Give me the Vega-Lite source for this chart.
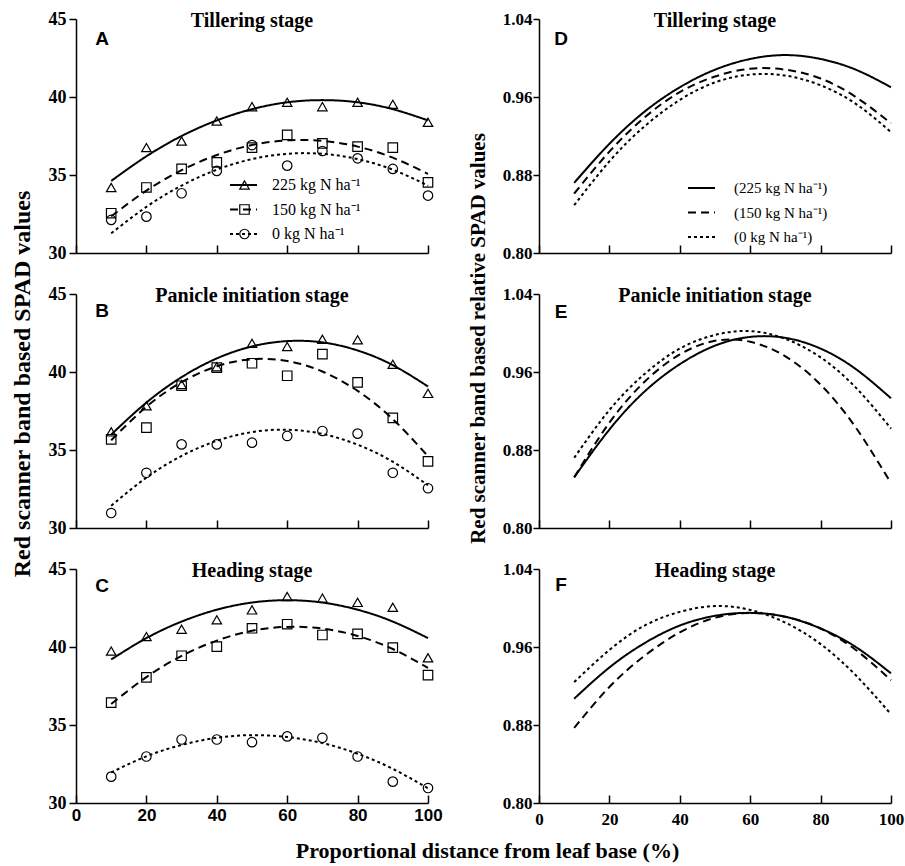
{
"$schema": "https://vega.github.io/schema/vega-lite/v6.json",
"background": "white",
"padding": {"left": 10, "top": 10, "right": 1, "bottom": 2},
"columns": 2,
"spacing": {"row": 41, "column": 111},
"bounds": "flush",
"resolve": {"scale": {"strokeDash": "independent", "shape": "independent"}, "legend": {"strokeDash": "independent", "shape": "independent"}},
"datasets": {
"pts": [
{"stage":"T","x":10,"m":"225","v":34.2},{"stage":"T","x":20,"m":"225","v":36.76},{"stage":"T","x":30,"m":"225","v":37.18},{"stage":"T","x":40,"m":"225","v":38.46},{"stage":"T","x":50,"m":"225","v":39.38},{"stage":"T","x":60,"m":"225","v":39.66},{"stage":"T","x":70,"m":"225","v":39.38},{"stage":"T","x":80,"m":"225","v":39.66},{"stage":"T","x":90,"m":"225","v":39.53},{"stage":"T","x":100,"m":"225","v":38.38},
{"stage":"T","x":10,"m":"150","v":32.55},{"stage":"T","x":20,"m":"150","v":34.2},{"stage":"T","x":30,"m":"150","v":35.39},{"stage":"T","x":40,"m":"150","v":35.81},{"stage":"T","x":50,"m":"150","v":36.76},{"stage":"T","x":60,"m":"150","v":37.57},{"stage":"T","x":70,"m":"150","v":37.03},{"stage":"T","x":80,"m":"150","v":36.82},{"stage":"T","x":90,"m":"150","v":36.76},{"stage":"T","x":100,"m":"150","v":34.53},
{"stage":"T","x":10,"m":"0","v":32.12},{"stage":"T","x":20,"m":"0","v":32.33},{"stage":"T","x":30,"m":"0","v":33.83},{"stage":"T","x":40,"m":"0","v":35.26},{"stage":"T","x":50,"m":"0","v":36.92},{"stage":"T","x":60,"m":"0","v":35.6},{"stage":"T","x":70,"m":"0","v":36.54},{"stage":"T","x":80,"m":"0","v":36.07},{"stage":"T","x":90,"m":"0","v":35.39},{"stage":"T","x":100,"m":"0","v":33.68},
{"stage":"P","x":10,"m":"225","v":36.16},{"stage":"P","x":20,"m":"225","v":37.83},{"stage":"P","x":30,"m":"225","v":39.2},{"stage":"P","x":40,"m":"225","v":40.34},{"stage":"P","x":50,"m":"225","v":41.84},{"stage":"P","x":60,"m":"225","v":41.63},{"stage":"P","x":70,"m":"225","v":42.1},{"stage":"P","x":80,"m":"225","v":42.06},{"stage":"P","x":90,"m":"225","v":40.49},{"stage":"P","x":100,"m":"225","v":38.63},
{"stage":"P","x":10,"m":"150","v":35.68},{"stage":"P","x":20,"m":"150","v":36.44},{"stage":"P","x":30,"m":"150","v":39.12},{"stage":"P","x":40,"m":"150","v":40.28},{"stage":"P","x":50,"m":"150","v":40.56},{"stage":"P","x":60,"m":"150","v":39.76},{"stage":"P","x":70,"m":"150","v":41.14},{"stage":"P","x":80,"m":"150","v":39.33},{"stage":"P","x":90,"m":"150","v":37.06},{"stage":"P","x":100,"m":"150","v":34.27},
{"stage":"P","x":10,"m":"0","v":30.96},{"stage":"P","x":20,"m":"0","v":33.54},{"stage":"P","x":30,"m":"0","v":35.36},{"stage":"P","x":40,"m":"0","v":35.36},{"stage":"P","x":50,"m":"0","v":35.47},{"stage":"P","x":60,"m":"0","v":35.9},{"stage":"P","x":70,"m":"0","v":36.22},{"stage":"P","x":80,"m":"0","v":36.05},{"stage":"P","x":90,"m":"0","v":33.54},{"stage":"P","x":100,"m":"0","v":32.55},
{"stage":"H","x":10,"m":"225","v":39.74},{"stage":"H","x":20,"m":"225","v":40.67},{"stage":"H","x":30,"m":"225","v":41.14},{"stage":"H","x":40,"m":"225","v":41.74},{"stage":"H","x":50,"m":"225","v":42.38},{"stage":"H","x":60,"m":"225","v":43.24},{"stage":"H","x":70,"m":"225","v":43.13},{"stage":"H","x":80,"m":"225","v":42.86},{"stage":"H","x":90,"m":"225","v":42.55},{"stage":"H","x":100,"m":"225","v":39.31},
{"stage":"H","x":10,"m":"150","v":36.44},{"stage":"H","x":20,"m":"150","v":38.05},{"stage":"H","x":30,"m":"150","v":39.44},{"stage":"H","x":40,"m":"150","v":40.02},{"stage":"H","x":50,"m":"150","v":41.2},{"stage":"H","x":60,"m":"150","v":41.46},{"stage":"H","x":70,"m":"150","v":40.77},{"stage":"H","x":80,"m":"150","v":40.84},{"stage":"H","x":90,"m":"150","v":39.96},{"stage":"H","x":100,"m":"150","v":38.2},
{"stage":"H","x":10,"m":"0","v":31.69},{"stage":"H","x":20,"m":"0","v":32.98},{"stage":"H","x":30,"m":"0","v":34.07},{"stage":"H","x":40,"m":"0","v":34.07},{"stage":"H","x":50,"m":"0","v":33.9},{"stage":"H","x":60,"m":"0","v":34.27},{"stage":"H","x":70,"m":"0","v":34.18},{"stage":"H","x":80,"m":"0","v":32.98},{"stage":"H","x":90,"m":"0","v":31.37},{"stage":"H","x":100,"m":"0","v":30.96}
],
"fit": [
{"stage":"T","x":10,"n":"225","v":34.62},{"stage":"T","x":20,"n":"225","v":36.2},{"stage":"T","x":30,"n":"225","v":37.5},{"stage":"T","x":40,"n":"225","v":38.5},{"stage":"T","x":50,"n":"225","v":39.22},{"stage":"T","x":60,"n":"225","v":39.66},{"stage":"T","x":70,"n":"225","v":39.8},{"stage":"T","x":80,"n":"225","v":39.66},{"stage":"T","x":90,"n":"225","v":39.22},{"stage":"T","x":100,"n":"225","v":38.5},
{"stage":"T","x":10,"n":"150","v":32.35},{"stage":"T","x":20,"n":"150","v":34.0},{"stage":"T","x":30,"n":"150","v":35.31},{"stage":"T","x":40,"n":"150","v":36.28},{"stage":"T","x":50,"n":"150","v":36.92},{"stage":"T","x":60,"n":"150","v":37.22},{"stage":"T","x":70,"n":"150","v":37.19},{"stage":"T","x":80,"n":"150","v":36.82},{"stage":"T","x":90,"n":"150","v":36.11},{"stage":"T","x":100,"n":"150","v":35.07},
{"stage":"T","x":10,"n":"0","v":31.26},{"stage":"T","x":20,"n":"0","v":32.96},{"stage":"T","x":30,"n":"0","v":34.32},{"stage":"T","x":40,"n":"0","v":35.34},{"stage":"T","x":50,"n":"0","v":36.02},{"stage":"T","x":60,"n":"0","v":36.36},{"stage":"T","x":70,"n":"0","v":36.36},{"stage":"T","x":80,"n":"0","v":36.02},{"stage":"T","x":90,"n":"0","v":35.34},{"stage":"T","x":100,"n":"0","v":34.32},
{"stage":"P","x":10,"n":"225","v":35.99},{"stage":"P","x":20,"n":"225","v":38.04},{"stage":"P","x":30,"n":"225","v":39.67},{"stage":"P","x":40,"n":"225","v":40.87},{"stage":"P","x":50,"n":"225","v":41.64},{"stage":"P","x":60,"n":"225","v":41.98},{"stage":"P","x":70,"n":"225","v":41.9},{"stage":"P","x":80,"n":"225","v":41.38},{"stage":"P","x":90,"n":"225","v":40.44},{"stage":"P","x":100,"n":"225","v":39.07},
{"stage":"P","x":10,"n":"150","v":35.62},{"stage":"P","x":20,"n":"150","v":37.77},{"stage":"P","x":30,"n":"150","v":39.35},{"stage":"P","x":40,"n":"150","v":40.37},{"stage":"P","x":50,"n":"150","v":40.82},{"stage":"P","x":60,"n":"150","v":40.71},{"stage":"P","x":70,"n":"150","v":40.03},{"stage":"P","x":80,"n":"150","v":38.79},{"stage":"P","x":90,"n":"150","v":36.98},{"stage":"P","x":100,"n":"150","v":34.6},
{"stage":"P","x":10,"n":"0","v":31.43},{"stage":"P","x":20,"n":"0","v":33.23},{"stage":"P","x":30,"n":"0","v":34.62},{"stage":"P","x":40,"n":"0","v":35.59},{"stage":"P","x":50,"n":"0","v":36.15},{"stage":"P","x":60,"n":"0","v":36.3},{"stage":"P","x":70,"n":"0","v":36.03},{"stage":"P","x":80,"n":"0","v":35.34},{"stage":"P","x":90,"n":"0","v":34.25},{"stage":"P","x":100,"n":"0","v":32.74},
{"stage":"H","x":10,"n":"225","v":39.2},{"stage":"H","x":20,"n":"225","v":40.57},{"stage":"H","x":30,"n":"225","v":41.63},{"stage":"H","x":40,"n":"225","v":42.39},{"stage":"H","x":50,"n":"225","v":42.85},{"stage":"H","x":60,"n":"225","v":43.0},{"stage":"H","x":70,"n":"225","v":42.85},{"stage":"H","x":80,"n":"225","v":42.39},{"stage":"H","x":90,"n":"225","v":41.63},{"stage":"H","x":100,"n":"225","v":40.57},
{"stage":"H","x":10,"n":"150","v":36.35},{"stage":"H","x":20,"n":"150","v":38.07},{"stage":"H","x":30,"n":"150","v":39.43},{"stage":"H","x":40,"n":"150","v":40.41},{"stage":"H","x":50,"n":"150","v":41.04},{"stage":"H","x":60,"n":"150","v":41.29},{"stage":"H","x":70,"n":"150","v":41.18},{"stage":"H","x":80,"n":"150","v":40.71},{"stage":"H","x":90,"n":"150","v":39.87},{"stage":"H","x":100,"n":"150","v":38.66},
{"stage":"H","x":10,"n":"0","v":31.96},{"stage":"H","x":20,"n":"0","v":32.99},{"stage":"H","x":30,"n":"0","v":33.72},{"stage":"H","x":40,"n":"0","v":34.18},{"stage":"H","x":50,"n":"0","v":34.35},{"stage":"H","x":60,"n":"0","v":34.23},{"stage":"H","x":70,"n":"0","v":33.84},{"stage":"H","x":80,"n":"0","v":33.16},{"stage":"H","x":90,"n":"0","v":32.19},{"stage":"H","x":100,"n":"0","v":30.94}
],
"rel": [
{"stage":"T","x":10,"n":"225","v":0.872},{"stage":"T","x":20,"n":"225","v":0.912},{"stage":"T","x":30,"n":"225","v":0.945},{"stage":"T","x":40,"n":"225","v":0.970},{"stage":"T","x":50,"n":"225","v":0.988},{"stage":"T","x":60,"n":"225","v":0.999},{"stage":"T","x":70,"n":"225","v":1.003},{"stage":"T","x":80,"n":"225","v":0.999},{"stage":"T","x":90,"n":"225","v":0.988},{"stage":"T","x":100,"n":"225","v":0.970},
{"stage":"T","x":10,"n":"150","v":0.861},{"stage":"T","x":20,"n":"150","v":0.904},{"stage":"T","x":30,"n":"150","v":0.939},{"stage":"T","x":40,"n":"150","v":0.965},{"stage":"T","x":50,"n":"150","v":0.981},{"stage":"T","x":60,"n":"150","v":0.989},{"stage":"T","x":70,"n":"150","v":0.988},{"stage":"T","x":80,"n":"150","v":0.979},{"stage":"T","x":90,"n":"150","v":0.960},{"stage":"T","x":100,"n":"150","v":0.933},
{"stage":"T","x":10,"n":"0","v":0.849},{"stage":"T","x":20,"n":"0","v":0.894},{"stage":"T","x":30,"n":"0","v":0.930},{"stage":"T","x":40,"n":"0","v":0.957},{"stage":"T","x":50,"n":"0","v":0.975},{"stage":"T","x":60,"n":"0","v":0.983},{"stage":"T","x":70,"n":"0","v":0.982},{"stage":"T","x":80,"n":"0","v":0.972},{"stage":"T","x":90,"n":"0","v":0.953},{"stage":"T","x":100,"n":"0","v":0.924},
{"stage":"P","x":10,"n":"225","v":0.852},{"stage":"P","x":20,"n":"225","v":0.901},{"stage":"P","x":30,"n":"225","v":0.940},{"stage":"P","x":40,"n":"225","v":0.968},{"stage":"P","x":50,"n":"225","v":0.987},{"stage":"P","x":60,"n":"225","v":0.996},{"stage":"P","x":70,"n":"225","v":0.995},{"stage":"P","x":80,"n":"225","v":0.984},{"stage":"P","x":90,"n":"225","v":0.963},{"stage":"P","x":100,"n":"225","v":0.933},
{"stage":"P","x":10,"n":"150","v":0.852},{"stage":"P","x":20,"n":"150","v":0.908},{"stage":"P","x":30,"n":"150","v":0.950},{"stage":"P","x":40,"n":"150","v":0.978},{"stage":"P","x":50,"n":"150","v":0.992},{"stage":"P","x":60,"n":"150","v":0.991},{"stage":"P","x":70,"n":"150","v":0.976},{"stage":"P","x":80,"n":"150","v":0.947},{"stage":"P","x":90,"n":"150","v":0.903},{"stage":"P","x":100,"n":"150","v":0.846},
{"stage":"P","x":10,"n":"0","v":0.872},{"stage":"P","x":20,"n":"0","v":0.921},{"stage":"P","x":30,"n":"0","v":0.958},{"stage":"P","x":40,"n":"0","v":0.984},{"stage":"P","x":50,"n":"0","v":0.998},{"stage":"P","x":60,"n":"0","v":1.002},{"stage":"P","x":70,"n":"0","v":0.994},{"stage":"P","x":80,"n":"0","v":0.975},{"stage":"P","x":90,"n":"0","v":0.944},{"stage":"P","x":100,"n":"0","v":0.902},
{"stage":"H","x":10,"n":"225","v":0.907},{"stage":"H","x":20,"n":"225","v":0.939},{"stage":"H","x":30,"n":"225","v":0.964},{"stage":"H","x":40,"n":"225","v":0.982},{"stage":"H","x":50,"n":"225","v":0.992},{"stage":"H","x":60,"n":"225","v":0.995},{"stage":"H","x":70,"n":"225","v":0.991},{"stage":"H","x":80,"n":"225","v":0.979},{"stage":"H","x":90,"n":"225","v":0.960},{"stage":"H","x":100,"n":"225","v":0.933},
{"stage":"H","x":10,"n":"150","v":0.877},{"stage":"H","x":20,"n":"150","v":0.919},{"stage":"H","x":30,"n":"150","v":0.951},{"stage":"H","x":40,"n":"150","v":0.975},{"stage":"H","x":50,"n":"150","v":0.990},{"stage":"H","x":60,"n":"150","v":0.995},{"stage":"H","x":70,"n":"150","v":0.991},{"stage":"H","x":80,"n":"150","v":0.979},{"stage":"H","x":90,"n":"150","v":0.957},{"stage":"H","x":100,"n":"150","v":0.926},
{"stage":"H","x":10,"n":"0","v":0.924},{"stage":"H","x":20,"n":"0","v":0.957},{"stage":"H","x":30,"n":"0","v":0.982},{"stage":"H","x":40,"n":"0","v":0.996},{"stage":"H","x":50,"n":"0","v":1.002},{"stage":"H","x":60,"n":"0","v":0.998},{"stage":"H","x":70,"n":"0","v":0.985},{"stage":"H","x":80,"n":"0","v":0.963},{"stage":"H","x":90,"n":"0","v":0.931},{"stage":"H","x":100,"n":"0","v":0.891}
]
},
"concat": [
{
"width": 352, "height": 234, "title": "Tillering stage",
"layer": [
{"data": {"name": "fit"}, "transform": [{"filter": "datum.stage === 'T'"}],
 "mark": {"type": "line", "interpolate": "natural", "strokeWidth": 2, "color": "black"},
 "encoding": {
  "x": {"field": "x", "type": "quantitative", "scale": {"domain": [0, 100], "nice": false}, "axis": {"values": [0,20,40,60,80,100], "title": null, "labels": false, "tickSize": -8}},
  "y": {"field": "v", "type": "quantitative", "scale": {"domain": [30, 45], "nice": false}, "axis": {"values": [30,35,40,45], "title": "Red scanner band based  SPAD values", "titleFont": "Liberation Serif", "titleFontWeight": "bold", "titleFontSize": 24, "titleX": -54, "titleY": 364.5, "titleBaseline": "middle", "tickSize": 7, "labelPadding": 3, "labelFont": "Liberation Serif", "labelFontWeight": "bold", "labelFontSize": 18}},
  "strokeDash": {"field": "n", "type": "nominal", "scale": {"domain": ["225","150","0"], "range": [[1,0],[8,5],[3,3]]},
   "legend": {"orient": "none", "legendX": 153, "legendY": 158, "direction": "vertical", "title": null, "symbolType": "stroke", "symbolSize": 729, "symbolStrokeWidth": 2, "symbolStrokeColor": "black", "clipHeight": 16, "rowPadding": 8.5, "labelOffset": 14, "labelFont": "Liberation Serif", "labelFontSize": 16, "labelColor": "black", "labelExpr": "datum.label + ' kg N ha⁻¹'", "padding": 0}}
 }},
{"data": {"name": "pts"}, "transform": [{"filter": "datum.stage === 'T'"}],
 "mark": {"type": "point", "filled": false, "color": "black", "size": 90, "strokeWidth": 1.2, "opacity": 1},
 "encoding": {
  "x": {"field": "x", "type": "quantitative"},
  "y": {"field": "v", "type": "quantitative"},
  "shape": {"field": "m", "type": "nominal", "sort": ["225","150","0"], "scale": {"range": ["triangle-up","square","circle"]},
   "legend": {"orient": "none", "legendX": 160.5, "legendY": 158, "direction": "vertical", "title": null, "symbolSize": 90, "symbolStrokeWidth": 1.2, "symbolStrokeColor": "black", "symbolFillColor": "transparent", "clipHeight": 16, "rowPadding": 8.5, "labelFontSize": 16, "labelExpr": "''", "padding": 0}}
 }},
{"data": {"values": [{"t": "A"}]}, "mark": {"type": "text", "font": "Liberation Sans", "fontWeight": "bold", "fontSize": 19, "color": "black"},
 "encoding": {"x": {"datum": 7.4}, "y": {"datum": 43.75}, "text": {"field": "t"}}}
]
},
{
"width": 352, "height": 234, "title": "Tillering stage",
"layer": [
{"data": {"name": "rel"}, "transform": [{"filter": "datum.stage === 'T'"}],
 "mark": {"type": "line", "interpolate": "natural", "strokeWidth": 2, "color": "black"},
 "encoding": {
  "x": {"field": "x", "type": "quantitative", "scale": {"domain": [0, 100], "nice": false}, "axis": {"values": [0,20,40,60,80,100], "title": null, "labels": false, "tickSize": -8}},
  "y": {"field": "v", "type": "quantitative", "scale": {"domain": [0.8, 1.04], "nice": false}, "axis": {"values": [0.8,0.88,0.96,1.04], "format": ".2f", "title": "Red scanner band based relative SPAD values", "titleFont": "Liberation Serif", "titleFontWeight": "bold", "titleFontSize": 21, "titleX": -61, "titleY": 319, "titleBaseline": "middle", "tickSize": 6, "labelPadding": 1, "labelFont": "Liberation Serif", "labelFontWeight": "bold", "labelFontSize": 17}},
  "strokeDash": {"field": "n", "type": "nominal", "scale": {"domain": ["225","150","0"], "range": [[1,0],[8,5],[3,3]]},
   "legend": {"orient": "none", "legendX": 148, "legendY": 161, "direction": "vertical", "title": null, "symbolType": "stroke", "symbolSize": 729, "symbolStrokeWidth": 2, "symbolStrokeColor": "black", "clipHeight": 16, "rowPadding": 8.5, "labelOffset": 18, "labelFont": "Liberation Serif", "labelFontSize": 15, "labelColor": "black", "labelExpr": "'(' + datum.label + ' kg N ha⁻¹)'", "padding": 0}}
 }},
{"data": {"values": [{"t": "D"}]}, "mark": {"type": "text", "font": "Liberation Sans", "fontWeight": "bold", "fontSize": 19, "color": "black"},
 "encoding": {"x": {"datum": 6.25}, "y": {"datum": 1.02}, "text": {"field": "t"}}}
]
},
{
"width": 352, "height": 234, "title": "Panicle initiation stage",
"layer": [
{"data": {"name": "fit"}, "transform": [{"filter": "datum.stage === 'P'"}],
 "mark": {"type": "line", "interpolate": "natural", "strokeWidth": 2, "color": "black"},
 "encoding": {
  "x": {"field": "x", "type": "quantitative", "scale": {"domain": [0, 100], "nice": false}, "axis": {"values": [0,20,40,60,80,100], "title": null, "labels": false, "tickSize": -8}},
  "y": {"field": "v", "type": "quantitative", "scale": {"domain": [30, 45], "nice": false}, "axis": {"values": [30,35,40,45], "title": null, "tickSize": 7, "labelPadding": 3, "labelFont": "Liberation Serif", "labelFontWeight": "bold", "labelFontSize": 18}},
  "strokeDash": {"field": "n", "type": "nominal", "scale": {"domain": ["225","150","0"], "range": [[1,0],[8,5],[3,3]]}, "legend": null}
 }},
{"data": {"name": "pts"}, "transform": [{"filter": "datum.stage === 'P'"}],
 "mark": {"type": "point", "filled": false, "color": "black", "size": 90, "strokeWidth": 1.2, "opacity": 1},
 "encoding": {
  "x": {"field": "x", "type": "quantitative"},
  "y": {"field": "v", "type": "quantitative"},
  "shape": {"field": "m", "type": "nominal", "sort": ["225","150","0"], "scale": {"range": ["triangle-up","square","circle"]}, "legend": null}
 }},
{"data": {"values": [{"t": "B"}]}, "mark": {"type": "text", "font": "Liberation Sans", "fontWeight": "bold", "fontSize": 19, "color": "black"},
 "encoding": {"x": {"datum": 7.4}, "y": {"datum": 43.9}, "text": {"field": "t"}}}
]
},
{
"width": 352, "height": 234, "title": "Panicle initiation stage",
"layer": [
{"data": {"name": "rel"}, "transform": [{"filter": "datum.stage === 'P'"}],
 "mark": {"type": "line", "interpolate": "natural", "strokeWidth": 2, "color": "black"},
 "encoding": {
  "x": {"field": "x", "type": "quantitative", "scale": {"domain": [0, 100], "nice": false}, "axis": {"values": [0,20,40,60,80,100], "title": null, "labels": false, "tickSize": -8}},
  "y": {"field": "v", "type": "quantitative", "scale": {"domain": [0.8, 1.04], "nice": false}, "axis": {"values": [0.8,0.88,0.96,1.04], "format": ".2f", "title": null, "tickSize": 6, "labelPadding": 1, "labelFont": "Liberation Serif", "labelFontWeight": "bold", "labelFontSize": 17}},
  "strokeDash": {"field": "n", "type": "nominal", "scale": {"domain": ["225","150","0"], "range": [[1,0],[8,5],[3,3]]}, "legend": null}
 }},
{"data": {"values": [{"t": "E"}]}, "mark": {"type": "text", "font": "Liberation Sans", "fontWeight": "bold", "fontSize": 19, "color": "black"},
 "encoding": {"x": {"datum": 6.25}, "y": {"datum": 1.022}, "text": {"field": "t"}}}
]
},
{
"width": 352, "height": 234, "title": "Heading stage",
"layer": [
{"data": {"name": "fit"}, "transform": [{"filter": "datum.stage === 'H'"}],
 "mark": {"type": "line", "interpolate": "natural", "strokeWidth": 2, "color": "black"},
 "encoding": {
  "x": {"field": "x", "type": "quantitative", "scale": {"domain": [0, 100], "nice": false}, "axis": {"values": [0,20,40,60,80,100], "title": "Proportional distance from leaf base (%)", "titleFont": "Liberation Serif", "titleFontWeight": "bold", "titleFontSize": 22, "titleX": 411, "titleY": 47.5, "titleBaseline": "middle", "tickSize": -8, "labelFlush": false, "labelPadding": 12, "labelFont": "Liberation Sans", "labelFontWeight": "bold", "labelFontSize": 17}},
  "y": {"field": "v", "type": "quantitative", "scale": {"domain": [30, 45], "nice": false}, "axis": {"values": [30,35,40,45], "title": null, "tickSize": 7, "labelPadding": 3, "labelFont": "Liberation Serif", "labelFontWeight": "bold", "labelFontSize": 18}},
  "strokeDash": {"field": "n", "type": "nominal", "scale": {"domain": ["225","150","0"], "range": [[1,0],[8,5],[3,3]]}, "legend": null}
 }},
{"data": {"name": "pts"}, "transform": [{"filter": "datum.stage === 'H'"}],
 "mark": {"type": "point", "filled": false, "color": "black", "size": 90, "strokeWidth": 1.2, "opacity": 1},
 "encoding": {
  "x": {"field": "x", "type": "quantitative"},
  "y": {"field": "v", "type": "quantitative"},
  "shape": {"field": "m", "type": "nominal", "sort": ["225","150","0"], "scale": {"range": ["triangle-up","square","circle"]}, "legend": null}
 }},
{"data": {"values": [{"t": "C"}]}, "mark": {"type": "text", "font": "Liberation Sans", "fontWeight": "bold", "fontSize": 19, "color": "black"},
 "encoding": {"x": {"datum": 7.4}, "y": {"datum": 43.9}, "text": {"field": "t"}}}
]
},
{
"width": 352, "height": 234, "title": "Heading stage",
"layer": [
{"data": {"name": "rel"}, "transform": [{"filter": "datum.stage === 'H'"}],
 "mark": {"type": "line", "interpolate": "natural", "strokeWidth": 2, "color": "black"},
 "encoding": {
  "x": {"field": "x", "type": "quantitative", "scale": {"domain": [0, 100], "nice": false}, "axis": {"values": [0,20,40,60,80,100], "title": null, "tickSize": -8, "labelFlush": false, "labelPadding": 16, "labelFont": "Liberation Serif", "labelFontWeight": "bold", "labelFontSize": 17}},
  "y": {"field": "v", "type": "quantitative", "scale": {"domain": [0.8, 1.04], "nice": false}, "axis": {"values": [0.8,0.88,0.96,1.04], "format": ".2f", "title": null, "tickSize": 6, "labelPadding": 1, "labelFont": "Liberation Serif", "labelFontWeight": "bold", "labelFontSize": 17}},
  "strokeDash": {"field": "n", "type": "nominal", "scale": {"domain": ["225","150","0"], "range": [[1,0],[8,5],[3,3]]}, "legend": null}
 }},
{"data": {"values": [{"t": "F"}]}, "mark": {"type": "text", "font": "Liberation Sans", "fontWeight": "bold", "fontSize": 19, "color": "black"},
 "encoding": {"x": {"datum": 6.25}, "y": {"datum": 1.024}, "text": {"field": "t"}}}
]
}
],
"config": {
 "view": {"stroke": null},
 "axis": {"grid": false, "domainColor": "black", "domainWidth": 1.5, "tickColor": "black", "tickWidth": 1.5, "labelColor": "black", "titleColor": "black"},
 "title": {"font": "Liberation Serif", "fontSize": 20, "fontWeight": "bold", "color": "black", "frame": "group", "anchor": "middle", "baseline": "middle", "offset": -21},
 "legend": {"padding": 0}
}
}
